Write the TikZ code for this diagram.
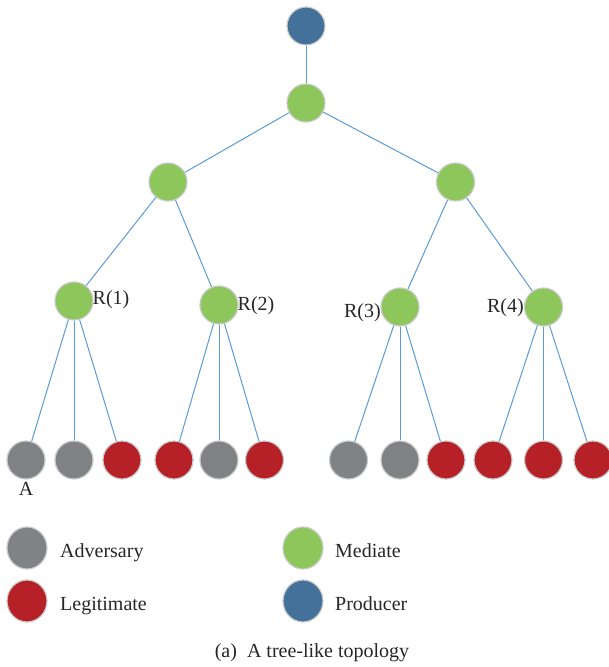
\documentclass[tikz,border=0pt]{standalone}
\usepackage{fontspec}
\setmainfont{Liberation Serif}
\definecolor{advgray}{HTML}{808285}
\definecolor{legred}{HTML}{B52126}
\definecolor{medgreen}{HTML}{8DC75B}
\definecolor{prodblue}{HTML}{44719A}
\definecolor{edgeblue}{HTML}{5B9BD5}
\definecolor{rimgray}{HTML}{CACACA}
\tikzset{
  nd/.style={circle, minimum size=38pt, inner sep=0pt, draw=rimgray, line width=1.2pt},
  adv/.style={nd, fill=advgray},
  leg/.style={nd, fill=legred},
  med/.style={nd, fill=medgreen},
  prod/.style={nd, fill=prodblue},
  lgd/.style={ellipse, minimum width=40pt, minimum height=42pt, inner sep=0pt, draw=rimgray, line width=1.2pt},
  edge/.style={draw=edgeblue, line width=1pt},
  lbl/.style={font=\fontsize{20}{24}\selectfont, inner sep=0pt, text=black!85},
}
\usetikzlibrary{shapes.geometric}
\begin{document}
\begin{tikzpicture}[x=1pt,y=-1pt]
\useasboundingbox (0,0) rectangle (609,667);
% tree nodes
\node[prod] (p) at (306,26) {};
\node[med] (m0) at (306,103) {};
\node[med] (m1) at (168,182) {};
\node[med] (m2) at (455.5,182) {};
\node[med] (r1) at (74,301) {};
\node[med] (r2) at (219,305) {};
\node[med] (r3) at (400,307) {};
\node[med] (r4) at (543.5,307) {};
% leaves
\node[adv] (l1) at (26,460) {};
\node[adv] (l2) at (74,460) {};
\node[leg] (l3) at (122,460) {};
\node[leg] (l4) at (174,460) {};
\node[adv] (l5) at (219,460) {};
\node[leg] (l6) at (264.5,460) {};
\node[adv] (l7) at (348.5,460) {};
\node[adv] (l8) at (400,460) {};
\node[leg] (l9) at (446,460) {};
\node[leg] (l10) at (493,460) {};
\node[leg] (l11) at (543.5,460) {};
\node[leg] (l12) at (593,460) {};
% edges
\path[edge] (p) -- (m0);
\path[edge] (m0) -- (m1);
\path[edge] (m0) -- (m2);
\path[edge] (m1) -- (r1);
\path[edge] (m1) -- (r2);
\path[edge] (m2) -- (r3);
\path[edge] (m2) -- (r4);
\path[edge] (r1) -- (l1);
\path[edge] (r1) -- (l2);
\path[edge] (r1) -- (l3);
\path[edge] (r2) -- (l4);
\path[edge] (r2) -- (l5);
\path[edge] (r2) -- (l6);
\path[edge] (r3) -- (l7);
\path[edge] (r3) -- (l8);
\path[edge] (r3) -- (l9);
\path[edge] (r4) -- (l10);
\path[edge] (r4) -- (l11);
\path[edge] (r4) -- (l12);
% labels
\node[lbl, anchor=west] (t1) at (92.5,300) {R(1)};
\node[lbl, anchor=west] (t2) at (237.5,306) {R(2)};
\node[lbl, anchor=east] (t3) at (381,313) {R(3)};
\node[lbl, anchor=east] (t4) at (524,308) {R(4)};
\node[lbl] (ta) at (26,489) {A};
% legend
\node[lgd, fill=advgray] (ka) at (27,548) {};
\node[lgd, fill=legred] (kl) at (27,601) {};
\node[lgd, fill=medgreen] (km) at (303,548) {};
\node[lgd, fill=prodblue] (kp) at (303,601) {};
\node[lbl, anchor=base west] (tka) at (60,557) {Adversary};
\node[lbl, anchor=base west] (tkl) at (60,610) {Legitimate};
\node[lbl, anchor=base west] (tkm) at (335,557) {Mediate};
\node[lbl, anchor=base west] (tkp) at (335,610) {Producer};
\node[lbl, anchor=base] (cap) at (312,657) {(a)\ \ A tree-like topology};
\end{tikzpicture}
\end{document}
